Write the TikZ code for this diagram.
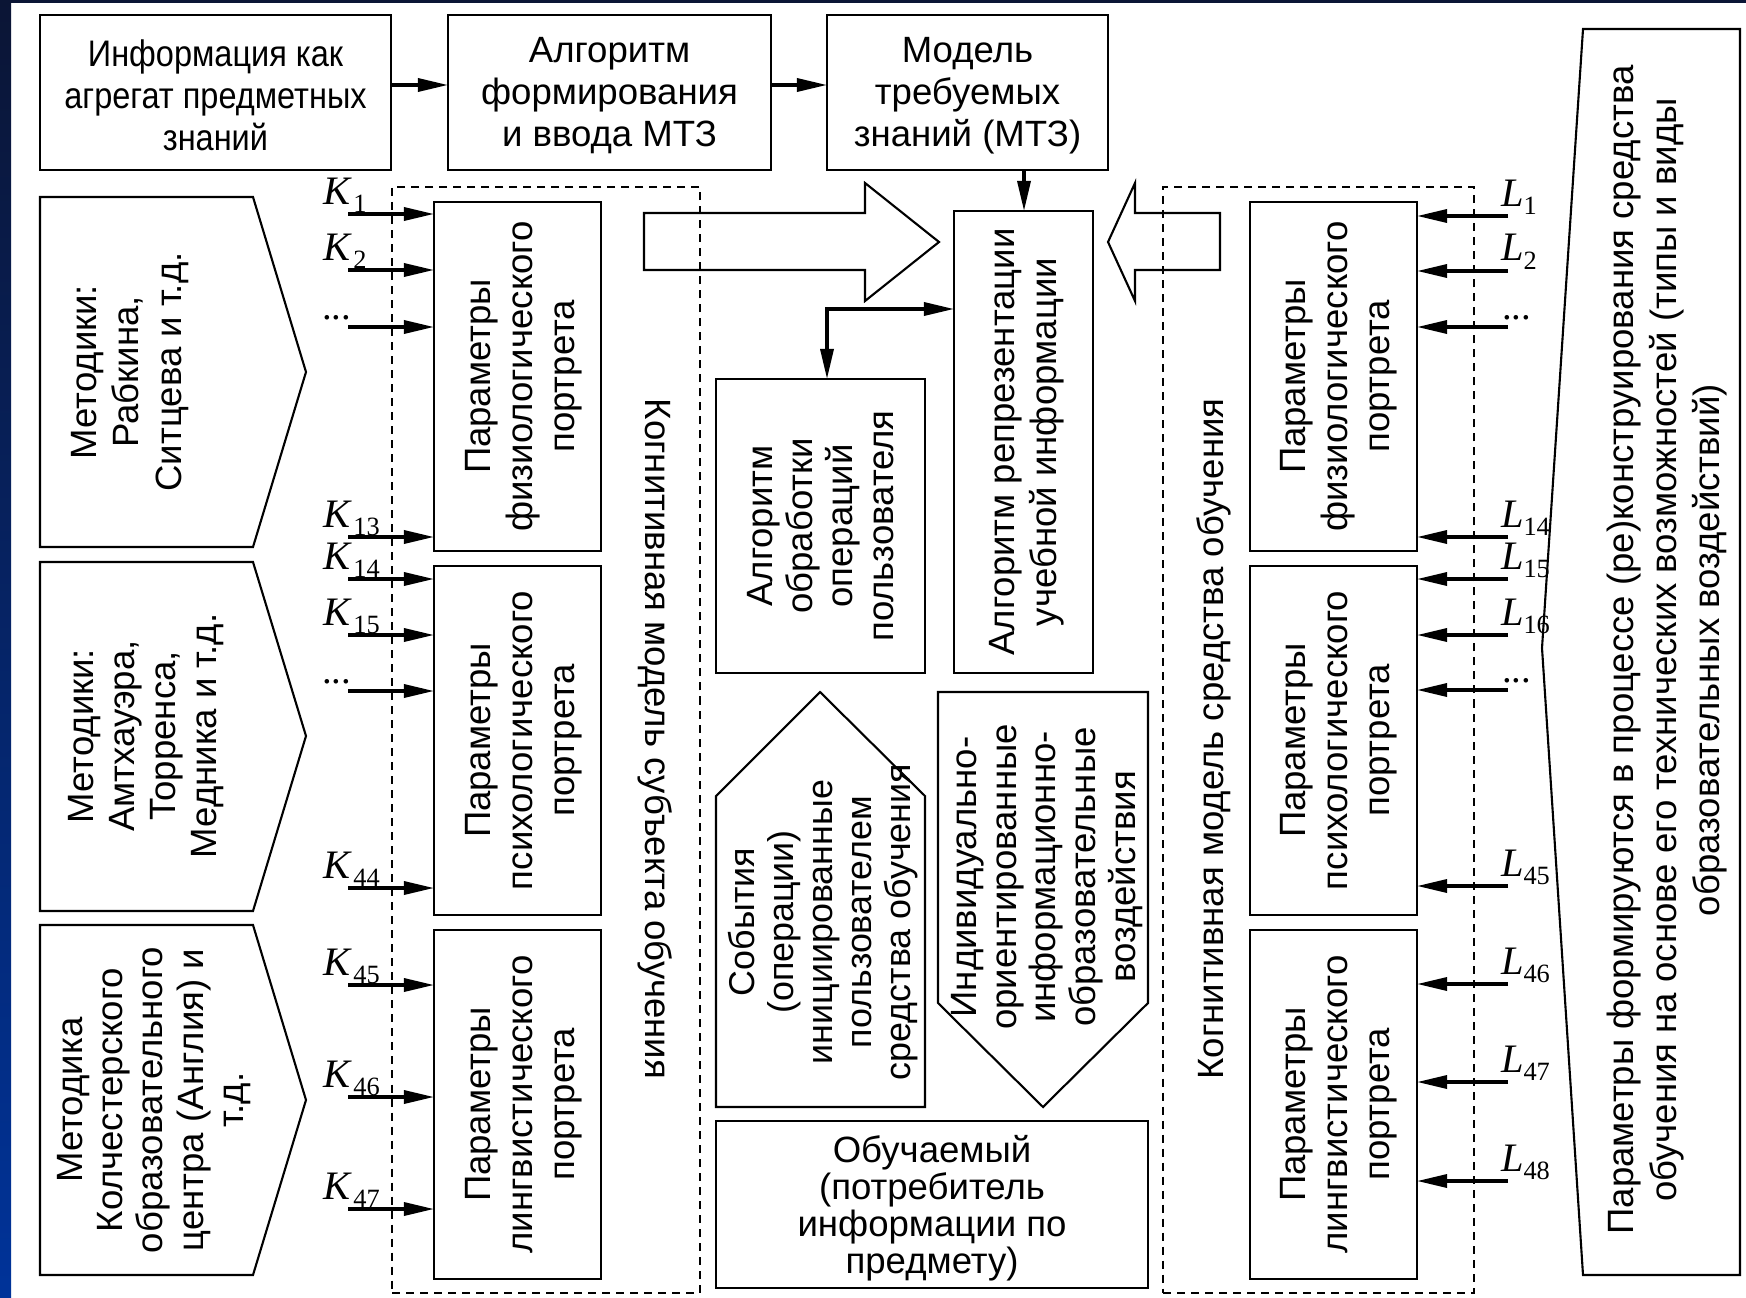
\documentclass[tikz,border=0pt]{standalone}
\usepackage{fontspec}
\setmainfont{Liberation Sans}
\newfontfamily\condfont[FakeStretch=0.88]{Liberation Sans}
\newfontfamily\tnr{Liberation Serif}
\usetikzlibrary{arrows.meta,fit,calc}
\definecolor{navy}{HTML}{0B1535}
\definecolor{blueb}{HTML}{003399}
\newcommand\ksub[1]{\raisebox{-0.08cm}{\fontsize{7.5}{7.5}\selectfont\upshape #1}}
\begin{document}
\begin{tikzpicture}[x=0.01cm,y=-0.01cm,
  every node/.style={inner sep=0pt,outer sep=0pt},
  box/.style={draw,line width=0.6pt,inner sep=0pt},
  shp/.style={draw,line width=0.6pt,line join=miter},
  txt/.style={align=center,font=\fontsize{10.4}{12}\selectfont},
  rot/.style={txt,rotate=90},
  arr/.style={line width=0.95pt,-{Triangle[length=0.3cm,width=0.13cm]}},
  arrtwo/.style={line width=0.95pt,{Triangle[length=0.3cm,width=0.13cm]}-{Triangle[length=0.3cm,width=0.13cm]}},
  dashbox/.style={draw,line width=0.5pt,dash pattern=on 0.08cm off 0.06cm,inner sep=0pt},
  lab/.style={anchor=base west,font=\tnr\fontsize{11.5}{11.5}\selectfont\itshape},
  dots/.style={anchor=base west,font=\tnr\fontsize{11}{11}\selectfont}
]
\useasboundingbox (0,0) rectangle (1746,1297);
\fill[white] (0,0) rectangle (1746,1297);
\shade[top color=navy,bottom color=blueb] (0,0) rectangle (11,1297);
\fill[navy] (0,0) rectangle (1746,3);

% top row
\node[box,fit={(40,15) (391,170)}] (b1) {};
\node[txt,font=\condfont\fontsize{10.5}{12}\selectfont] (b1t) at ($(b1.center)+(0,3)$) {Информация как\\агрегат предметных\\знаний};
\node[box,fit={(448,15) (771,170)}] (b2) {};
\node[txt] (b2t) at ($(b2.center)+(0,3)$) {Алгоритм\\формирования\\и ввода МТЗ};
\node[box,fit={(827,15) (1108,170)}] (b3) {};
\node[txt] (b3t) at ($(b3.center)+(0,3)$) {Модель\\требуемых\\знаний (МТЗ)};
\coordinate (a1) at (391,85);
\draw[arr] (a1) -- (a1 -| b2.west);
\coordinate (a2) at (771,85);
\draw[arr] (a2) -- (a2 -| b3.west);

% dashed models
\node[dashbox,fit={(392,187) (700,1293)}] (dl) {};
\node[dashbox,fit={(1163,187) (1474,1293)}] (dr) {};
\node[txt,rotate=-90] (dlt) at (655,739) {Когнитивная модель субъекта обучения};
\node[rot] (drt) at (1214,739) {Когнитивная модель средства обучения};

% left pentagons
\draw[shp] (40,197) -- (253,197) -- (306,372) -- (253,547) -- (40,547) -- cycle;
\node[rot] (ma) at (130,372) {Методики:\\Рабкина,\\Ситцева и т.д.};
\draw[shp] (40,562) -- (253,562) -- (306,736) -- (253,911) -- (40,911) -- cycle;
\node[rot,font=\fontsize{10.4}{11.7}\selectfont] (mb) at (146,736) {Методики:\\Амтхауэра,\\Торренса,\\Медника и т.д.};
\draw[shp] (40,925) -- (253,925) -- (306,1100) -- (253,1275) -- (40,1275) -- cycle;
\node[rot,font=\fontsize{10.4}{11.4}\selectfont] (mc) at (154,1100) {Методика\\Колчестерского\\образовательного\\центра (Англия) и\\т.д.};

% left parameter boxes
\node[box,fit={(434,202) (601,551)}] (p1) {};
\node[rot] (p1t) at ($(p1.center)+(6,0)$) {Параметры\\физиологического\\портрета};
\node[box,fit={(434,566) (601,915)}] (p2) {};
\node[rot] (p2t) at ($(p2.center)+(6,0)$) {Параметры\\психологического\\портрета};
\node[box,fit={(434,930) (601,1279)}] (p3) {};
\node[rot] (p3t) at ($(p3.center)+(6,0)$) {Параметры\\лингвистического\\портрета};

% right parameter boxes
\node[box,fit={(1250,202) (1417,551)}] (p4) {};
\node[rot] (p4t) at ($(p4.center)+(5,0)$) {Параметры\\физиологического\\портрета};
\node[box,fit={(1250,566) (1417,915)}] (p5) {};
\node[rot] (p5t) at ($(p5.center)+(5,0)$) {Параметры\\психологического\\портрета};
\node[box,fit={(1250,930) (1417,1279)}] (p6) {};
\node[rot] (p6t) at ($(p6.center)+(5,0)$) {Параметры\\лингвистического\\портрета};

% K arrows
\foreach \n/\y/\b in {1/214/p1,2/270/p1,13/537/p1,14/579/p2,15/635/p2,44/888/p2,45/985/p3,46/1097/p3,47/1209/p3}{
  \coordinate (ks\n) at (348,\y);
  \draw[arr] (ks\n) -- (ks\n -| \b.west);
  \node[lab] (kl\n) at (323,\y-10) {K\kern1pt\ksub{\n}};
}
\foreach \n/\y/\b in {1/327/p1,2/691/p2}{
  \coordinate (kd\n) at (348,\y);
  \draw[arr] (kd\n) -- (kd\n -| \b.west);
  \node[dots] (kdl\n) at (322,\y-8) {...};
}
% L arrows
\foreach \n/\y/\b in {1/216/p4,2/271/p4,14/537/p4,15/579/p5,16/635/p5,45/886/p5,46/984/p6,47/1082/p6,48/1181/p6}{
  \coordinate (ls\n) at (1508,\y);
  \draw[arr] (ls\n) -- (ls\n -| \b.east);
  \node[lab] (ll\n) at (1501,\y-10) {L\ksub{\n}};
}
\foreach \n/\y/\b in {1/327/p4,2/690/p5}{
  \coordinate (ld\n) at (1508,\y);
  \draw[arr] (ld\n) -- (ld\n -| \b.east);
  \node[dots] (ldl\n) at (1502,\y-8) {...};
}

% middle
\draw[shp] (644,213) -- (865,213) -- (865,183) -- (939,242) -- (865,301) -- (865,270) -- (644,270) -- cycle;
\draw[shp] (1108,242) -- (1135,183) -- (1135,213) -- (1220,213) -- (1220,270) -- (1135,270) -- (1135,301) -- cycle;

\node[box,fit={(954,211) (1093,673)}] (br) {};
\node[rot] (brt) at ($(br.center)+(3,0)$) {Алгоритм репрезентации\\учебной информации};
\coordinate (c3) at (1024,170);
\draw[arr] (c3) -- (c3 |- br.north);

\node[box,fit={(716,379) (925,673)}] (ba) {};
\node[rot,font=\fontsize{10.4}{11.4}\selectfont] (bat) at (ba.center) {Алгоритм\\обработки\\операций\\пользователя};
\coordinate (cc) at (827,309);
\draw[arrtwo] (cc -| br.west) -| (cc |- ba.north);

\draw[shp] (716,1107) -- (716,796) -- (820,692) -- (925,796) -- (925,1107) -- cycle;
\node[rot,font=\fontsize{10.2}{11.1}\selectfont] (ev) at (823,922) {События\\(операции)\\инициированные\\пользователем\\средства обучения};
\draw[shp] (938,692) -- (1148,692) -- (1148,1003) -- (1043,1107) -- (938,1003) -- cycle;
\node[rot,font=\fontsize{10.4}{11.3}\selectfont] (iv) at (1047,877) {Индивидуально-\\ориентированные\\информационно-\\образовательные\\воздействия};

\node[box,fit={(716,1121) (1148,1288)}] (bl) {};
\node[txt,font=\fontsize{10.4}{10.5}\selectfont] (blt) at ($(bl.center)+(0,4)$) {Обучаемый\\(потребитель\\информации по\\предмету)};

% right pentagon
\draw[shp] (1583,29) -- (1740,29) -- (1740,1275) -- (1583,1275) -- (1542,648) -- cycle;
\node[rot,font=\fontsize{10.4}{12.2}\selectfont] (rp) at (1667,650) {Параметры формируются в процессе (ре)конструирования средства\\обучения на основе его технических возможностей (типы и виды\\образовательных воздействий)};
\end{tikzpicture}
\end{document}
